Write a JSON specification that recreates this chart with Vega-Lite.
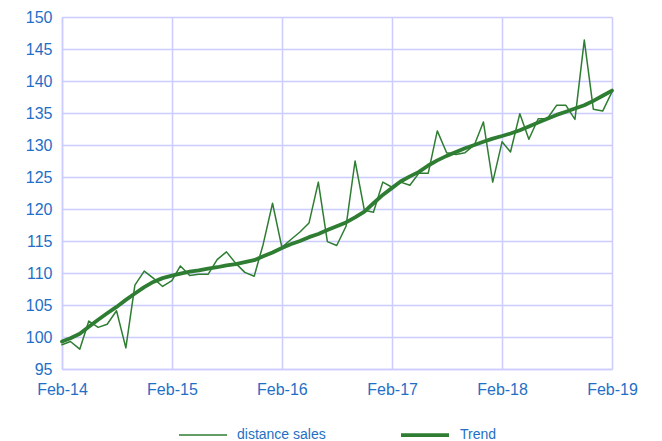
{
  "$schema": "https://vega.github.io/schema/vega-lite/v6.json",
  "width": 550,
  "height": 352,
  "autosize": {"type": "none"},
  "padding": {"left": 62, "top": 17, "right": 50, "bottom": 72},
  "background": "white",
  "config": {"view": {"stroke": null}, "font": "Liberation Sans"},
  "data": {
    "format": {"parse": {"date": "date:'%Y-%m'"}},
    "values": [
      {"date": "2014-02", "sales": 98.8, "trend": 99.3},
      {"date": "2014-03", "sales": 99.3, "trend": 99.8},
      {"date": "2014-04", "sales": 98.1, "trend": 100.5},
      {"date": "2014-05", "sales": 102.5, "trend": 101.6},
      {"date": "2014-06", "sales": 101.5, "trend": 102.7},
      {"date": "2014-07", "sales": 102.0, "trend": 103.7},
      {"date": "2014-08", "sales": 104.1, "trend": 104.7},
      {"date": "2014-09", "sales": 98.3, "trend": 105.8},
      {"date": "2014-10", "sales": 108.1, "trend": 106.8},
      {"date": "2014-11", "sales": 110.3, "trend": 107.8},
      {"date": "2014-12", "sales": 109.2, "trend": 108.6},
      {"date": "2015-01", "sales": 107.9, "trend": 109.2},
      {"date": "2015-02", "sales": 108.8, "trend": 109.6},
      {"date": "2015-03", "sales": 111.1, "trend": 109.9},
      {"date": "2015-04", "sales": 109.6, "trend": 110.2},
      {"date": "2015-05", "sales": 109.8, "trend": 110.4},
      {"date": "2015-06", "sales": 109.8, "trend": 110.7},
      {"date": "2015-07", "sales": 112.1, "trend": 110.9},
      {"date": "2015-08", "sales": 113.3, "trend": 111.2},
      {"date": "2015-09", "sales": 111.5, "trend": 111.4},
      {"date": "2015-10", "sales": 110.1, "trend": 111.7},
      {"date": "2015-11", "sales": 109.5, "trend": 112.0},
      {"date": "2015-12", "sales": 114.5, "trend": 112.6},
      {"date": "2016-01", "sales": 120.9, "trend": 113.2},
      {"date": "2016-02", "sales": 114.0, "trend": 113.9},
      {"date": "2016-03", "sales": 115.2, "trend": 114.5},
      {"date": "2016-04", "sales": 116.4, "trend": 115.0},
      {"date": "2016-05", "sales": 117.8, "trend": 115.6},
      {"date": "2016-06", "sales": 124.2, "trend": 116.1},
      {"date": "2016-07", "sales": 114.9, "trend": 116.7},
      {"date": "2016-08", "sales": 114.3, "trend": 117.3},
      {"date": "2016-09", "sales": 117.3, "trend": 117.9},
      {"date": "2016-10", "sales": 127.5, "trend": 118.7},
      {"date": "2016-11", "sales": 119.8, "trend": 119.6},
      {"date": "2016-12", "sales": 119.5, "trend": 120.9},
      {"date": "2017-01", "sales": 124.2, "trend": 122.2},
      {"date": "2017-02", "sales": 123.4, "trend": 123.3},
      {"date": "2017-03", "sales": 124.2, "trend": 124.3},
      {"date": "2017-04", "sales": 123.7, "trend": 125.1},
      {"date": "2017-05", "sales": 125.6, "trend": 125.8},
      {"date": "2017-06", "sales": 125.6, "trend": 126.8},
      {"date": "2017-07", "sales": 132.2, "trend": 127.6},
      {"date": "2017-08", "sales": 128.8, "trend": 128.3},
      {"date": "2017-09", "sales": 128.5, "trend": 128.9},
      {"date": "2017-10", "sales": 128.8, "trend": 129.5},
      {"date": "2017-11", "sales": 130.0, "trend": 130.0},
      {"date": "2017-12", "sales": 133.6, "trend": 130.5},
      {"date": "2018-01", "sales": 124.2, "trend": 131.0},
      {"date": "2018-02", "sales": 130.5, "trend": 131.4},
      {"date": "2018-03", "sales": 128.9, "trend": 131.8},
      {"date": "2018-04", "sales": 134.9, "trend": 132.3},
      {"date": "2018-05", "sales": 130.9, "trend": 132.9},
      {"date": "2018-06", "sales": 134.1, "trend": 133.5},
      {"date": "2018-07", "sales": 134.1, "trend": 134.1},
      {"date": "2018-08", "sales": 136.2, "trend": 134.7},
      {"date": "2018-09", "sales": 136.2, "trend": 135.2},
      {"date": "2018-10", "sales": 134.0, "trend": 135.7},
      {"date": "2018-11", "sales": 146.4, "trend": 136.2},
      {"date": "2018-12", "sales": 135.6, "trend": 136.9},
      {"date": "2019-01", "sales": 135.3, "trend": 137.7},
      {"date": "2019-02", "sales": 138.3, "trend": 138.5}
    ]
  },
  "transform": [{"fold": ["sales", "trend"], "as": ["series", "value"]}],
  "mark": {"type": "line", "strokeJoin": "round", "strokeCap": "round"},
  "encoding": {
    "x": {
      "field": "date",
      "type": "temporal",
      "scale": {"domain": [{"year": 2014, "month": 2, "date": 1}, {"year": 2019, "month": 2, "date": 1}]},
      "axis": {
        "title": null,
        "values": [
          {"year": 2014, "month": 2, "date": 1},
          {"year": 2015, "month": 2, "date": 1},
          {"year": 2016, "month": 2, "date": 1},
          {"year": 2017, "month": 2, "date": 1},
          {"year": 2018, "month": 2, "date": 1},
          {"year": 2019, "month": 2, "date": 1}
        ],
        "format": "%b-%y",
        "labelFontSize": 16,
        "labelColor": "#1F6FC6",
        "labelPadding": 12,
        "labelFlush": false,
        "ticks": false,
        "grid": true,
        "gridColor": "#CCCCFF",
        "gridWidth": 1.5,
        "gridOpacity": 1,
        "domainColor": "#CCCCFF",
        "domainWidth": 1.5
      }
    },
    "y": {
      "field": "value",
      "type": "quantitative",
      "scale": {"domain": [95, 150], "nice": false, "zero": false},
      "axis": {
        "title": null,
        "values": [95, 100, 105, 110, 115, 120, 125, 130, 135, 140, 145, 150],
        "labelFontSize": 16,
        "labelColor": "#1F6FC6",
        "labelPadding": 10,
        "ticks": false,
        "grid": true,
        "gridColor": "#CCCCFF",
        "gridWidth": 1.5,
        "gridOpacity": 1,
        "domainColor": "#CCCCFF",
        "domainWidth": 1.5
      }
    },
    "color": {
      "field": "series",
      "type": "nominal",
      "scale": {"domain": ["sales", "trend"], "range": ["#2E7D32", "#2E7D32"]},
      "legend": {
        "title": null,
        "orient": "none",
        "legendX": 116,
        "legendY": 392,
        "direction": "horizontal",
        "symbolType": "stroke",
        "symbolSize": 2300,
        "labelFontSize": 14,
        "labelColor": "#1F6FC6",
        "labelOffset": 9,
        "columnPadding": 67,
        "labelExpr": "datum.label == 'sales' ? 'distance sales' : 'Trend'"
      }
    },
    "strokeWidth": {
      "field": "series",
      "type": "nominal",
      "scale": {"domain": ["sales", "trend"], "range": [1.5, 3.8]},
      "legend": {
        "title": null,
        "orient": "none",
        "legendX": 116,
        "legendY": 392,
        "direction": "horizontal",
        "symbolType": "stroke",
        "symbolSize": 2300,
        "labelFontSize": 14,
        "labelColor": "#1F6FC6",
        "labelOffset": 9,
        "columnPadding": 67,
        "labelExpr": "datum.label == 'sales' ? 'distance sales' : 'Trend'"
      }
    }
  }
}
